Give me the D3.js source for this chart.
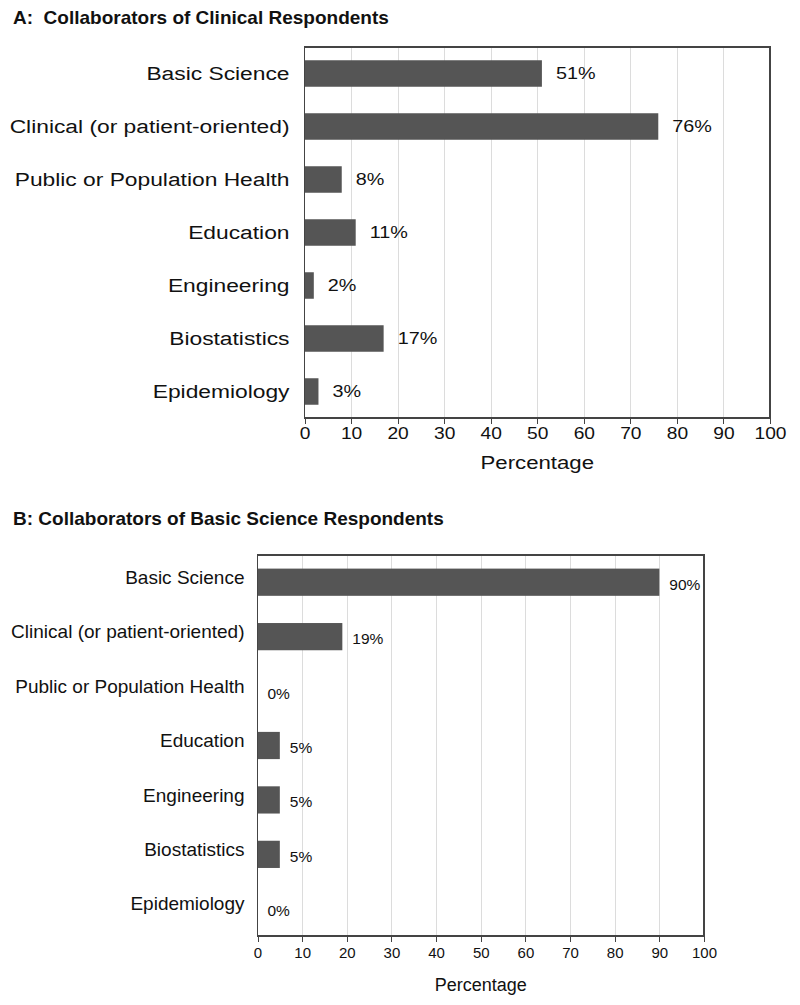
<html lang="en">
<head>
<meta charset="utf-8">
<title>Collaborators of Respondents</title>
<style>
  body { margin: 0; padding: 0; background-color: white; }
  svg { display: block; background-color: white; font-family: "Liberation Sans", Arial, sans-serif; }
  svg text { font-family: "Liberation Sans", Arial, sans-serif; }
  .title { font-weight: bold; fill: #111; }
  .grid line { stroke: #dcdcdc; stroke-width: 1; shape-rendering: crispEdges; }
  .frame { fill: none; stroke: #444; stroke-width: 1.2; shape-rendering: crispEdges; }
  .bar { fill: #555555; }
  .axis path { display: none; }
  .axis line { stroke: #444; shape-rendering: crispEdges; }
  .axis text, .cat, .val, .axis-title { fill: #111; }
</style>
</head>
<body>
<div id="chart"></div>

<script src="https://d3js.org/d3.v7.min.js"></script>
<script type="text/javascript">

var categories = ["Basic Science", "Clinical (or patient-oriented)", "Public or Population Health",
                  "Education", "Engineering", "Biostatistics", "Epidemiology"];
var clinicalValues = [51, 76, 8, 11, 2, 17, 3];
var basicValues = [90, 19, 0, 5, 5, 5, 0];
var xTicks = [0, 10, 20, 30, 40, 50, 60, 70, 80, 90, 100];
var titleA = "A:\u00a0\u00a0Collaborators of Clinical Respondents";
var titleB = "B: Collaborators of Basic Science Respondents";
var axisLabel = "Percentage";

var width = 800, height = 1005;

var svg = d3.select("#chart")
  .append("svg")
  .attr("width", width)
  .attr("height", height);

// panel A came out stretched sideways in the original, so its text gets an x-scale
function drawPanel(cfg) {
  var g = svg.append("g");
  var rows = categories.map(function(c, i){ return { name: c, value: cfg.values[i] }; });

  var x = d3.scaleLinear().domain([0, 100]).range([cfg.left, cfg.right]);
  var y = d3.scaleBand().domain(categories).range([cfg.top, cfg.bottom])
    .paddingInner(0.5).paddingOuter(0.25);

  g.append("text")
    .attr("class", "title")
    .attr("x", 13)
    .attr("y", cfg.titleY)
    .style("font-size", "19px")
    .text(cfg.title);

  // vertical grid
  g.append("g").attr("class", "grid")
    .selectAll("line")
    .data(xTicks.slice(1, -1))
    .enter().append("line")
    .attr("x1", function(d){ return Math.round(x(d)) + 0.5; })
    .attr("x2", function(d){ return Math.round(x(d)) + 0.5; })
    .attr("y1", cfg.top)
    .attr("y2", cfg.bottom);

  g.selectAll("rect.bar")
    .data(rows)
    .enter().append("rect")
    .attr("class", "bar")
    .attr("x", x(0))
    .attr("y", function(d){ return y(d.name); })
    .attr("width", function(d){ return x(d.value) - x(0); })
    .attr("height", y.bandwidth());

  g.append("rect")
    .attr("class", "frame")
    .attr("x", cfg.left)
    .attr("y", cfg.top)
    .attr("width", cfg.right - cfg.left)
    .attr("height", cfg.bottom - cfg.top);

  // bottom axis
  var xAxis = g.append("g")
    .attr("class", "axis")
    .attr("transform", "translate(0," + cfg.bottom + ")")
    .call(d3.axisBottom(x).tickValues(xTicks).tickSizeOuter(0).tickSize(6).tickPadding(cfg.tickPad));
  xAxis.attr("font-family", null).attr("font-size", null);
  xAxis.selectAll("text")
    .style("font-size", cfg.tickFont + "px")
    .attr("transform", "scale(" + cfg.sx + ",1)");

  // category labels
  g.selectAll("text.cat")
    .data(rows)
    .enter().append("text")
    .attr("class", "cat")
    .attr("text-anchor", "end")
    .attr("dy", "0.35em")
    .style("font-size", cfg.catFont + "px")
    .attr("transform", function(d){
      return "translate(" + (cfg.left - cfg.catGap) + "," + (y(d.name) + y.bandwidth() / 2 + cfg.catShift) + ") scale(" + cfg.sx + ",1)";
    })
    .text(function(d){ return d.name; });

  // value labels
  g.selectAll("text.val")
    .data(rows)
    .enter().append("text")
    .attr("class", "val")
    .attr("dy", "0.35em")
    .style("font-size", cfg.valFont + "px")
    .attr("transform", function(d){
      return "translate(" + (x(d.value) + cfg.valGap) + "," + (y(d.name) + y.bandwidth() / 2 + cfg.valShift) + ") scale(" + cfg.sx + ",1)";
    })
    .text(function(d){ return d.value + "%"; });

  g.append("text")
    .attr("class", "axis-title")
    .attr("text-anchor", "middle")
    .style("font-size", cfg.axisFont + "px")
    .attr("transform", "translate(" + ((cfg.left + cfg.right) / 2) + "," + cfg.axisTitleY + ") scale(" + cfg.sx + ",1)")
    .text(axisLabel);
}

drawPanel({
  title: titleA, titleY: 24, values: clinicalValues,
  left: 304.5, right: 770, top: 47, bottom: 418,
  sx: 1.2, tickFont: 16, tickPad: 4, catFont: 19, catGap: 15, catShift: 0,
  valFont: 16.5, valGap: 14, valShift: 0, axisFont: 18.5, axisTitleY: 469
});

drawPanel({
  title: titleB, titleY: 525, values: basicValues,
  left: 257.5, right: 704, top: 555, bottom: 936,
  sx: 1, tickFont: 15, tickPad: 5, catFont: 19, catGap: 13, catShift: -5,
  valFont: 15.5, valGap: 10, valShift: 2, axisFont: 18, axisTitleY: 991
});

</script>
</body>
</html>
